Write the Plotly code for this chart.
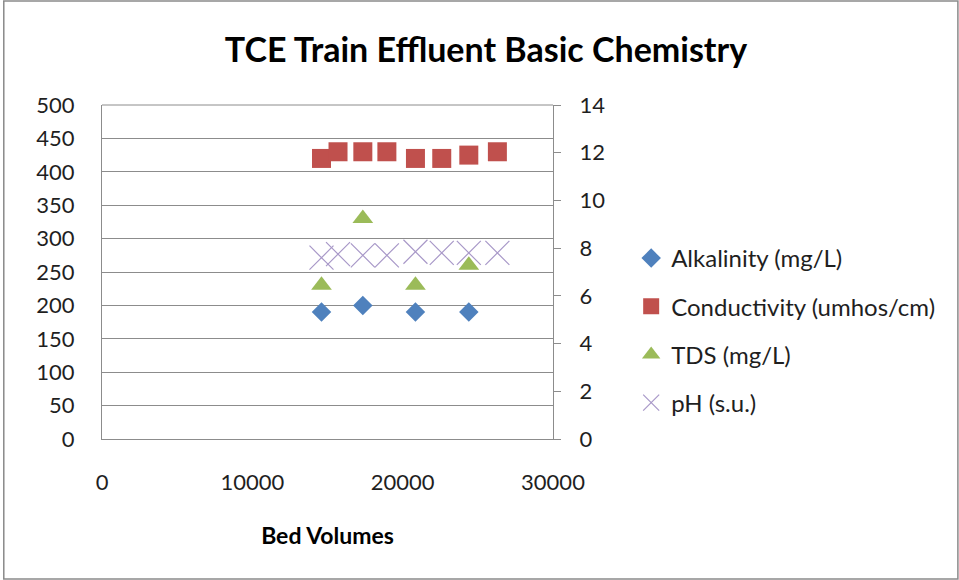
import plotly.graph_objects as go

# Bed volumes at each sampling event
bed_volumes = [14600, 15700, 17350, 18950, 20850, 22600, 24400, 26300]
# Events where alkalinity and TDS were measured
bed_volumes_lab = [14600, 17350, 20850, 24400]

alkalinity = [190, 200, 190, 190]                       # mg/L
conductivity = [420, 430, 430, 430, 420, 420, 425, 430]  # umhos/cm
tds = [230, 330, 230, 260]                               # mg/L
ph = [7.6, 7.75, 7.7, 7.7, 7.85, 7.8, 7.8, 7.8]          # s.u.

left_ticks = list(range(0, 501, 50))
right_ticks = list(range(0, 15, 2))
x_ticks = [0, 10000, 20000, 30000]

FONT = "Lato"
GRID = "#8c8c8c"
TXT = "#1f1f1f"

fig = go.Figure()
fig.add_trace(go.Scatter(
    x=bed_volumes_lab, y=alkalinity, mode="markers", name="Alkalinity (mg/L)",
    legendgroup="a",
    marker=dict(symbol="diamond", size=15, color="#4F81BD", line=dict(width=0)),
))
fig.add_trace(go.Scatter(
    x=bed_volumes, y=conductivity, mode="markers", name="Conductivity (umhos/cm)",
    legendgroup="b",
    marker=dict(symbol="square", size=19, color="#C0504D", line=dict(width=0)),
))
fig.add_trace(go.Scatter(
    x=bed_volumes_lab, y=tds, mode="markers", name="TDS (mg/L)",
    legendgroup="c",
    marker=dict(symbol="triangle-up", size=18, color="#9BBB59", line=dict(width=0)),
))
fig.add_trace(go.Scatter(
    x=bed_volumes, y=ph, mode="markers", name="pH (s.u.)", yaxis="y2",
    legendgroup="d",
    marker=dict(symbol="x-thin", size=24, color="#A898C8",
                line=dict(width=1.2, color="#A898C8")),
))

# outer chart frame
fig.add_shape(type="rect", xref="paper", yref="paper",
              x0=(4 - 102) / 450, x1=(956 - 102) / 450,
              y0=(439 - 579) / 334, y1=(439 - 1) / 334,
              line=dict(color="#8a8a8a", width=1.5), fillcolor="rgba(0,0,0,0)",
              layer="below")

fig.update_layout(
    width=959, height=580,
    margin=dict(l=102, r=406, t=105, b=141),
    paper_bgcolor="white", plot_bgcolor="white",
    font=dict(family=FONT, size=22, color=TXT),
    title=dict(text="<b>TCE Train Effluent Basic Chemistry</b>",
               x=486 / 959, xanchor="center", y=1 - 50 / 580, yanchor="middle",
               font=dict(family=FONT, size=34, color="#000000")),
    xaxis=dict(
        range=[0, 30000], tickvals=x_ticks, ticktext=[str(v) for v in x_ticks],
        showgrid=False, zeroline=False, showline=True, linecolor=GRID, linewidth=1,
        ticks="", ticklabelstandoff=24,
        title=dict(text="<b>Bed Volumes</b>", font=dict(family=FONT, size=23, color="#000000"),
                   standoff=33),
        tickfont=dict(size=22, color=TXT),
    ),
    yaxis=dict(
        range=[0, 500], tickvals=left_ticks, showgrid=True, gridcolor=GRID, gridwidth=1,
        zeroline=False, showline=True, linecolor=GRID, linewidth=1, mirror=False,
        ticks="", ticklabelstandoff=22, tickfont=dict(size=22, color=TXT),
    ),
    yaxis2=dict(
        range=[0, 14], tickvals=right_ticks, overlaying="y", side="right",
        showgrid=False, zeroline=False, showline=True, linecolor=GRID, linewidth=1,
        ticks="outside", ticklen=7, tickcolor=GRID, ticklabelstandoff=14,
        tickfont=dict(size=22, color=TXT),
    ),
    showlegend=True,
    legend=dict(
        x=(630 - 102) / 450, xanchor="left",
        y=(439 - 236) / 334, yanchor="top",
        font=dict(family=FONT, size=24, color=TXT),
        tracegroupgap=14, bgcolor="rgba(0,0,0,0)", itemwidth=30,
    ),
)

# top border of the plot area
fig.add_shape(type="line", xref="paper", yref="paper", x0=0, x1=1, y0=1, y1=1,
              line=dict(color=GRID, width=1))

fig.write_html("out.html")
